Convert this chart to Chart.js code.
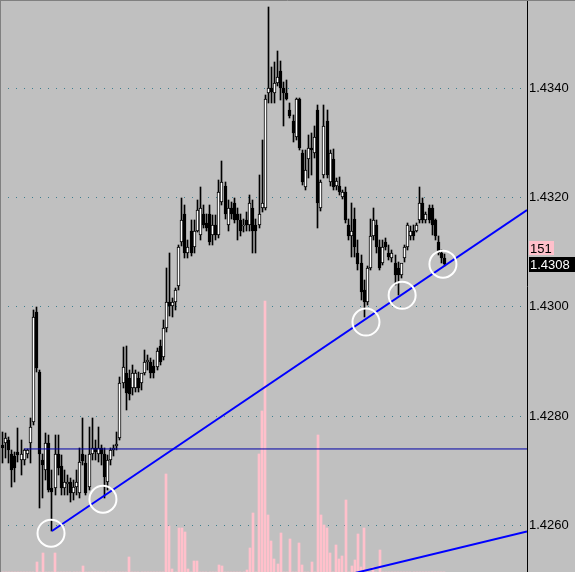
<!DOCTYPE html>
<html><head><meta charset="utf-8">
<script src="https://cdn.jsdelivr.net/npm/chart.js@4.4.0/dist/chart.umd.min.js"></script>
<style>html,body{margin:0;padding:0;background:#c0c0c0;overflow:hidden}canvas{display:block}</style>
</head><body>
<canvas id="c" width="575" height="572"></canvas>
<script>
// ---- data (EURUSD-like M1 candles) ----
const opens = [
1.42747,1.42751,1.42756,1.42731,1.42727,1.42734,1.42720,1.42720,1.42731,1.42751,1.42789,1.42990,
1.42881,1.42720,1.42701,1.42751,1.42668,1.42668,1.42731,1.42709,1.42668,1.42676,1.42679,1.42659,
1.42670,1.42659,1.42731,1.42714,1.42670,1.42731,1.42742,1.42731,1.42742,1.42731,1.42679,1.42720,
1.42738,1.42745,1.42760,1.42860,1.42879,1.42870,1.42851,1.42851,1.42870,1.42860,1.42879,1.42899,
1.42899,1.42892,1.42890,1.42928,1.42908,1.42961,1.43009,1.43001,1.43009,1.43038,1.43118,1.43170,
1.43099,1.43139,1.43109,1.43139,1.43131,1.43170,1.43154,1.43170,1.43131,1.43150,1.43131,1.43191,
1.43221,1.43150,1.43181,1.43190,1.43170,1.43159,1.43147,1.43159,1.43150,1.43181,1.43149,1.43149,
1.43181,1.43181,1.43391,1.43400,1.43391,1.43409,1.43431,1.43400,1.43391,1.43360,1.43340,1.43310,
1.43380,1.43281,1.43219,1.43270,1.43290,1.43281,1.43360,1.43181,1.43241,1.43340,1.43228,1.43270,
1.43221,1.43221,1.43201,1.43210,1.43149,1.43129,1.43161,1.43099,1.43080,1.43031,1.43009,1.43071,
1.43129,1.43149,1.43109,1.43080,1.43118,1.43098,1.43089,1.43080,1.43071,1.43058,1.43089,1.43109,
1.43129,1.43139,1.43139,1.43158,1.43190,1.43158,1.43181,1.43181,1.43158,1.43118,1.43098,1.43089];
const highs = [
1.42771,1.42769,1.42762,1.42738,1.42734,1.42778,1.42756,1.42740,1.42740,1.42796,1.42994,1.42999,
1.42884,1.42731,1.42769,1.42765,1.42701,1.42765,1.42765,1.42729,1.42701,1.42692,1.42687,1.42683,
1.42701,1.42742,1.42796,1.42729,1.42780,1.42796,1.42756,1.42780,1.42747,1.42742,1.42729,1.42742,
1.42747,1.42771,1.42871,1.42926,1.42928,1.42884,1.42893,1.42884,1.42881,1.42875,1.42921,1.42912,
1.42906,1.42903,1.42925,1.42939,1.42976,1.43071,1.43098,1.43016,1.43034,1.43113,1.43199,1.43186,
1.43122,1.43158,1.43158,1.43196,1.43219,1.43186,1.43170,1.43186,1.43168,1.43168,1.43232,1.43267,
1.43228,1.43196,1.43191,1.43199,1.43181,1.43170,1.43161,1.43173,1.43204,1.43196,1.43161,1.43241,
1.43305,1.43387,1.43548,1.43438,1.43448,1.43468,1.43449,1.43411,1.43415,1.43373,1.43351,1.43382,
1.43382,1.43287,1.43287,1.43314,1.43318,1.43331,1.43369,1.43232,1.43369,1.43360,1.43287,1.43289,
1.43235,1.43237,1.43214,1.43219,1.43161,1.43190,1.43181,1.43122,1.43095,1.43049,1.43075,1.43161,
1.43181,1.43158,1.43122,1.43122,1.43126,1.43113,1.43104,1.43095,1.43082,1.43076,1.43113,1.43154,
1.43147,1.43149,1.43154,1.43219,1.43199,1.43173,1.43186,1.43186,1.43161,1.43129,1.43104,1.43096];
const lows = [
1.42714,1.42723,1.42714,1.42670,1.42679,1.42716,1.42692,1.42711,1.42723,1.42714,1.42784,1.42881,
1.42632,1.42650,1.42683,1.42661,1.42590,1.42656,1.42692,1.42656,1.42656,1.42656,1.42643,1.42647,
1.42656,1.42651,1.42711,1.42656,1.42665,1.42720,1.42720,1.42716,1.42711,1.42651,1.42665,1.42711,
1.42727,1.42738,1.42756,1.42851,1.42811,1.42829,1.42839,1.42844,1.42844,1.42848,1.42875,1.42884,
1.42870,1.42870,1.42884,1.42893,1.42903,1.42954,1.42983,1.42981,1.42994,1.43031,1.43111,1.43089,
1.43089,1.43093,1.43099,1.43137,1.43122,1.43144,1.43139,1.43113,1.43113,1.43122,1.43126,1.43186,
1.43161,1.43139,1.43161,1.43154,1.43122,1.43129,1.43137,1.43139,1.43139,1.43099,1.43099,1.43144,
1.43173,1.43177,1.43373,1.43373,1.43373,1.43404,1.43378,1.43331,1.43378,1.43345,1.43301,1.43305,
1.43287,1.43223,1.43214,1.43235,1.43241,1.43272,1.43144,1.43175,1.43235,1.43235,1.43221,1.43214,
1.43214,1.43204,1.43197,1.43154,1.43122,1.43091,1.43091,1.43067,1.43012,1.42981,1.43003,1.43067,
1.43122,1.43099,1.43067,1.43076,1.43104,1.43086,1.43082,1.43040,1.43021,1.43053,1.43082,1.43104,
1.43122,1.43122,1.43137,1.43154,1.43154,1.43154,1.43154,1.43131,1.43122,1.43095,1.43080,1.43075];
const closes = [
1.42742,1.42760,1.42738,1.42701,1.42705,1.42729,1.42731,1.42738,1.42738,1.42780,1.42981,1.42888,
1.42731,1.42711,1.42751,1.42665,1.42661,1.42731,1.42705,1.42668,1.42679,1.42679,1.42659,1.42670,
1.42679,1.42716,1.42718,1.42659,1.42731,1.42742,1.42734,1.42742,1.42731,1.42689,1.42720,1.42738,
1.42742,1.42749,1.42860,1.42890,1.42842,1.42840,1.42879,1.42879,1.42851,1.42879,1.42899,1.42903,
1.42879,1.42879,1.42919,1.42899,1.42961,1.43009,1.43001,1.43009,1.43031,1.43109,1.43159,1.43099,
1.43109,1.43099,1.43139,1.43177,1.43181,1.43149,1.43144,1.43118,1.43150,1.43131,1.43210,1.43228,
1.43170,1.43181,1.43170,1.43159,1.43159,1.43138,1.43150,1.43150,1.43190,1.43138,1.43138,1.43170,
1.43190,1.43380,1.43400,1.43393,1.43409,1.43420,1.43400,1.43391,1.43380,1.43349,1.43318,1.43380,
1.43290,1.43228,1.43250,1.43290,1.43287,1.43310,1.43190,1.43228,1.43331,1.43241,1.43281,1.43219,
1.43230,1.43210,1.43210,1.43158,1.43129,1.43139,1.43109,1.43078,1.43027,1.43009,1.43071,1.43129,
1.43159,1.43109,1.43071,1.43109,1.43109,1.43091,1.43098,1.43058,1.43058,1.43080,1.43109,1.43149,
1.43139,1.43129,1.43149,1.43190,1.43158,1.43170,1.43158,1.43149,1.43129,1.43099,1.43089,1.43078];
const volumes = [
0,0,0,0,0,0,0,0,0,0,0,20,
0,38,0,0,0,38,0,0,0,0,0,0,
0,0,12,0,0,0,0,0,0,0,0,0,
0,0,0,0,0,30,0,0,0,0,0,0,
0,0,0,0,0,196,92,6,0,88,88,80,
6,0,22,22,0,0,0,0,0,0,14,12,
0,0,0,0,0,0,0,4,48,118,0,236,
322,542,114,62,26,16,78,0,0,66,0,0,
58,14,0,0,20,0,274,114,94,88,38,0,
54,26,32,144,0,12,24,76,10,88,0,0,
10,0,44,0,0,0,0,0,0,0,0,0,
0,0,0,0,0,0,0,0,0,0,0,0];
const priceTicks = [1.4260, 1.4280, 1.4300, 1.4320, 1.4340];
const volumeTag = 151;
// drawn objects (bar index, price)
const trendLine = [{x:16, y:1.42590}, {x:169.7, y:1.43177}];
const lowerLine = [{x:100, y:1.42494}, {x:169.7, y:1.42589}];
const levelLine = [{x:7, y:1.42740}, {x:169.7, y:1.42740}];
const circlePts = [{x:15.7, y:1.42586}, {x:32.5, y:1.42648}, {x:117.6, y:1.42972}, {x:129.3, y:1.43021}, {x:142.5, y:1.43078}];

const idx = closes.map((_, i) => i);
const wickData = idx.map(i => ({x: i, y: [lows[i], highs[i]]}));
const bodyData = idx.map(i => ({x: i, y: [opens[i], closes[i]]}));
const bodyFill = idx.map(i => closes[i] >= opens[i] ? '#ffffff' : '#000000');
const volData = idx.map(i => ({x: i, y: volumes[i]}));

// snap bar elements (computed by Chart.js scales) to whole pixels for crisp candles
const snap = {
  id: 'snap',
  afterDatasetsUpdate(chart) {
    chart.data.datasets.forEach((ds, di) => {
      const meta = chart.getDatasetMeta(di);
      if (meta.type !== 'bar') return;
      meta.data.forEach(el => {
        const w = Math.round(el.width);
        el.x = (w % 2 === 1) ? Math.floor(el.x) + 0.5 : Math.round(el.x);
        el.y = Math.round(el.y);
        el.base = Math.round(el.base);
      });
    });
  }
};

const frame = {
  id: 'frame',
  beforeDraw(chart) {
    const ctx = chart.ctx;
    ctx.save();
    ctx.fillStyle = '#c0c0c0';
    ctx.fillRect(0, 0, chart.width, chart.height);
    ctx.restore();
  },
  afterDraw(chart) {
    const ctx = chart.ctx;
    const ys = chart.scales.y;
    const last = closes[closes.length - 1];
    const py = Math.round(ys.getPixelForValue(last));
    const ax = Math.round(chart.chartArea.right);
    ctx.save();
    ctx.strokeStyle = '#808080';
    ctx.lineWidth = 1;
    ctx.beginPath();
    ctx.moveTo(0, 0.5); ctx.lineTo(chart.width, 0.5);
    ctx.moveTo(0.5, 0); ctx.lineTo(0.5, chart.height);
    ctx.stroke();
    ctx.font = '13px "Liberation Sans", Arial, sans-serif';
    ctx.textBaseline = 'middle';
    // price tag
    ctx.fillStyle = '#000000';
    ctx.fillRect(ax + 2, py - 7, chart.width - ax - 2, 15);
    ctx.fillStyle = '#ffffff';
    ctx.fillText(last.toFixed(4), ax + 3, py + 1);
    // volume tag
    ctx.fillStyle = '#ffc0cb';
    ctx.fillRect(ax + 2, py - 23, 25, 14);
    ctx.fillStyle = '#000000';
    ctx.fillText(String(volumeTag), ax + 3, py - 15);
    ctx.restore();
  }
};

new Chart(document.getElementById('c'), {
  type: 'bar',
  data: {
    datasets: [
      {type: 'bar', data: volData, yAxisID: 'vol', backgroundColor: '#ffc0cb', barThickness: 2, grouped: false, order: 10},
      {type: 'bar', data: wickData, yAxisID: 'y', backgroundColor: '#000000', barThickness: 1, grouped: false, order: 8},
      {type: 'bar', data: bodyData, yAxisID: 'y', backgroundColor: bodyFill, borderColor: '#000000', borderWidth: 1, borderSkipped: false, barThickness: 3, minBarLength: 1, grouped: false, order: 7},
      {type: 'line', data: levelLine, yAxisID: 'y', borderColor: '#0000a8', borderWidth: 1, pointRadius: 0, fill: false, order: 5},
      {type: 'line', data: trendLine, yAxisID: 'y', borderColor: '#0000ff', borderWidth: 2, pointRadius: 0, fill: false, order: 4},
      {type: 'line', data: lowerLine, yAxisID: 'y', borderColor: '#0000ff', borderWidth: 2, pointRadius: 0, fill: false, order: 4},
      {type: 'line', data: circlePts, yAxisID: 'y', showLine: false, pointRadius: 13.5, pointBorderWidth: 2, pointBorderColor: '#ffffff', pointBackgroundColor: 'rgba(0,0,0,0)', order: 2}
    ]
  },
  options: {
    responsive: false,
    devicePixelRatio: 1,
    animation: false,
    events: [],
    layout: {padding: 0, autoPadding: false},
    plugins: {legend: {display: false}, tooltip: {enabled: false}, title: {display: false}},
    scales: {
      x: {type: 'linear', display: false, min: -0.81, max: 169.7, offset: false},
      vol: {type: 'linear', axis: 'y', display: false, min: 0, max: 1144, position: 'left'},
      y: {
        type: 'linear', position: 'right', min: 1.42515, max: 1.43561,
        afterBuildTicks: s => { s.ticks = priceTicks.map(v => ({value: v})); },
        afterFit: s => { s.width = 48; s.paddingTop = 0; s.paddingBottom = 0; },
        grid: {color: '#3f7f8f', lineWidth: 1, drawTicks: false},
        border: {display: true, color: '#000000', width: 1, dash: [1, 7]},
        ticks: {padding: 2, color: '#000000', font: {family: '"Liberation Sans", Arial, sans-serif', size: 13}, callback: v => Number(v).toFixed(4)}
      }
    }
  },
  plugins: [snap, frame]
});
</script>
</body></html>
